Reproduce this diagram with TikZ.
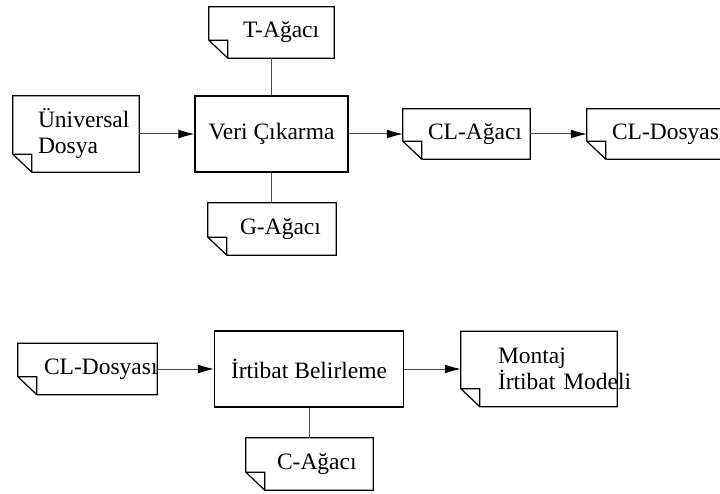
\documentclass[tikz,border=0pt]{standalone}
\usepackage{fontspec}
\setmainfont{Liberation Serif}
\usetikzlibrary{arrows.meta}

\tikzset{
  docbox/.style={inner xsep=#1, inner ysep=0pt, align=left,
    execute at begin node={\hyphenpenalty=10000\exhyphenpenalty=10000}},
  procbox/.style={draw, line width=1.2pt, inner sep=0pt},
  docline/.style={line width=1.2pt},
  link/.style={draw=black!70, line width=1pt},
  flow/.style={link, -{Latex[length=16pt,width=9pt,black]}},
}

\begin{document}
\begin{tikzpicture}[x=1pt, y=1pt, font=\fontsize{23.5}{26}\selectfont]
    \clip (0,0) rectangle (720,493);
    \fill[white] (0,0) rectangle (720,493);

    % veri cikarma
    \node[docbox=25pt, text width=76pt, minimum height=76pt] (univ) at (76,359) {Üniversal\\Dosya};
    \node[procbox, minimum width=153pt, minimum height=76pt] (veri) at (271.5,359) {Veri Çıkarma};
    \node[docbox=34pt, text width=57pt, minimum height=51pt] (tagac) at (271.5,460.5) {T-Ağacı};
    \node[docbox=32pt, text width=64pt, minimum height=52pt] (gagac) at (272,264) {G-Ağacı};
    \node[docbox=25pt, text width=77pt, minimum height=50pt] (clagac) at (466.5,359) {CL-Ağacı};
    \node[docbox=25pt, text width=100pt, minimum height=50pt] (cldosA) at (662,359) {CL-Dosyası};

    % irtibat belirleme
    \node[docbox=26pt, text width=87pt, minimum height=51pt] (cldosB) at (87.5,124) {CL-Dosyası};
    \node[procbox, minimum width=189pt, minimum height=76pt] (irtibat) at (309,124) {İrtibat Belirleme};
    \node[docbox=37pt, text width=82pt, minimum height=75pt] (montaj) at (539,124) {Montaj\\\mbox{İrtibat Modeli}};
    \node[docbox=31pt, text width=65pt, minimum height=52pt] (cagac) at (309.5,29) {C-Ağacı};

    \foreach \n in {univ,tagac,gagac,clagac,cldosA,cldosB,montaj,cagac}
        \draw[docline] (\n.north west) -- (\n.north east) -- (\n.south east)
            -- ([xshift=19pt]\n.south west) -- ([yshift=18pt]\n.south west) -- cycle
            ([yshift=18pt]\n.south west) -| ([xshift=19pt]\n.south west);

    \draw[flow] (univ) -- (veri);
    \draw[flow] (veri) -- (clagac);
    \draw[flow] (clagac) -- (cldosA);
    \draw[link] (tagac) -- (veri);
    \draw[link] (veri.south) -- (veri.south |- gagac.north);
    \draw[flow] (cldosB) -- (irtibat);
    \draw[flow] (irtibat) -- (montaj);
    \draw[link] (irtibat.south) -- (irtibat.south |- cagac.north);
\end{tikzpicture}
\end{document}
